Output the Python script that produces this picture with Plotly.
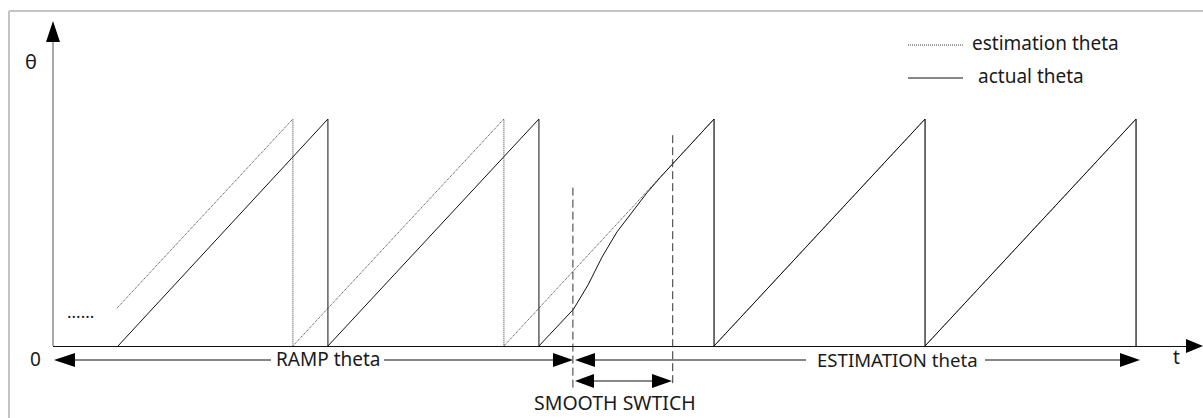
import plotly.graph_objects as go

W, H = 1203, 418

# ---------------- data (t in periods, theta in degrees) ----------------
t_actual = [0.308, 1.303, 1.303, 2.303, 2.303, 2.466, 2.536, 2.602, 2.673,
            2.735, 2.815, 2.877, 3.133, 3.133, 4.133, 4.133, 5.133, 5.133]
theta_actual = [0, 360, 0, 360, 0, 58, 97, 141, 181,
                208, 243, 267, 360, 0, 360, 0, 360, 0]

t_estimation = [0.303, 1.137, 1.137, 2.137, 2.137, 3.133, 3.133, 4.133, 4.133, 5.133, 5.133]
theta_estimation = [60, 360, 0, 360, 0, 360, 0, 360, 0, 360, 0]

switch_t = [2.464, 2.937]          # start / end of smooth switch
switch_top = [254, 339]
switch_bottom = [-66, -59]

labels_phase = ["RAMP theta", "ESTIMATION theta", "SMOOTH SWTICH"]
legend_names = ["estimation theta", "actual theta"]

# ---------------- mapping (axes fill whole figure) ----------------
X0_PX, PERIOD_PX = 53, 211
Y0_PX, PEAK_PX = 346, 227
x_range = [(0 - X0_PX) / PERIOD_PX, (W - X0_PX) / PERIOD_PX]
y_range = [-(H - Y0_PX) * 360 / PEAK_PX, Y0_PX * 360 / PEAK_PX]


def px(x, y):
    return x / W, 1 - y / H


FONT = "Noto Sans"
TXT = "#1a1a1a"
FS = 19

fig = go.Figure()

fig.add_trace(go.Scatter(x=t_estimation, y=theta_estimation, mode="lines",
                         line=dict(color="#3a3a3a", width=1, dash="1px,1px"),
                         name=legend_names[0], showlegend=False, hoverinfo="skip"))
fig.add_trace(go.Scatter(x=t_actual, y=theta_actual, mode="lines",
                         line=dict(color="#111111", width=1),
                         name=legend_names[1], showlegend=False, hoverinfo="skip"))

shapes = []


def seg(x0, y0, x1, y1, color="#111111", width=1, dash="solid"):
    a = px(x0, y0)
    b = px(x1, y1)
    shapes.append(dict(type="line", xref="paper", yref="paper", x0=a[0], y0=a[1],
                       x1=b[0], y1=b[1], line=dict(color=color, width=width, dash=dash)))


def tri(tip, b1, b2, color="#000000"):
    pts = [px(*tip), px(*b1), px(*b2)]
    path = "M {} {} L {} {} L {} {} Z".format(pts[0][0], pts[0][1], pts[1][0], pts[1][1],
                                            pts[2][0], pts[2][1])
    shapes.append(dict(type="path", xref="paper", yref="paper", path=path,
                       fillcolor=color, line=dict(color=color, width=0)))


# outer border (left and top edges visible)
seg(9, 11, 9, H, color="#c4c4c4", width=2)
seg(9, 11, W, 11, color="#c4c4c4", width=2)

# axes
seg(53, 346, 53, 40, color="#555555")
tri((53, 21), (46, 42), (60, 42))
seg(53, 346.5, 1188, 346.5, color="#111111")
tri((W, 346), (1186, 339), (1186, 353))

# phase arrows (broken where the labels sit)
seg(74, 360, 271, 360)
seg(384, 360, 555, 360)
tri((54, 360), (75, 353), (75, 367))
tri((573, 360), (553, 353), (553, 367))
seg(594, 360, 806, 360)
seg(985, 360, 1121, 360)
tri((575, 360), (595, 353), (595, 367))
tri((1140, 360), (1120, 353), (1120, 367))
seg(593, 381, 654, 381)
tri((575, 381), (594, 374), (594, 388))
tri((672, 381), (652, 374), (652, 388))

# smooth switch dashed markers (data coords)
for ts, top, bot in zip(switch_t, switch_top, switch_bottom):
    shapes.append(dict(type="line", xref="x", yref="y", x0=ts, x1=ts, y0=bot, y1=top,
                       line=dict(color="#333333", width=1, dash="8px,4px")))

# legend lines
seg(908, 45, 963, 45, color="#3a3a3a", dash="1px,1px")
seg(908, 78, 963, 78, color="#111111")

annotations = []


def text(s, x, y, xanchor="center", size=FS):
    p = px(x, y)
    annotations.append(dict(text=s, x=p[0], y=p[1], xref="paper", yref="paper",
                            xanchor=xanchor, yanchor="middle", showarrow=False,
                            font=dict(family=FONT, size=size, color=TXT)))


text("θ", 31, 61, size=20)
text("0", 35, 359)
text("t", 1176, 357)
text("......", 80, 311, size=17)
text(labels_phase[0], 327.5, 359)
text(labels_phase[1], 897, 359, size=18.6)
text(labels_phase[2], 615, 402, size=19.5)
text(legend_names[0], 970, 43, xanchor="left")
text(legend_names[1], 976, 76, xanchor="left")

fig.update_layout(
    width=W, height=H, margin=dict(l=0, r=0, t=0, b=0),
    paper_bgcolor="white", plot_bgcolor="white",
    xaxis=dict(range=x_range, visible=False, fixedrange=True),
    yaxis=dict(range=y_range, visible=False, fixedrange=True),
    shapes=shapes, annotations=annotations, showlegend=False,
)

fig.write_html("out.html", config={"displayModeBar": False},
               post_script="document.body.style.margin='0';")
